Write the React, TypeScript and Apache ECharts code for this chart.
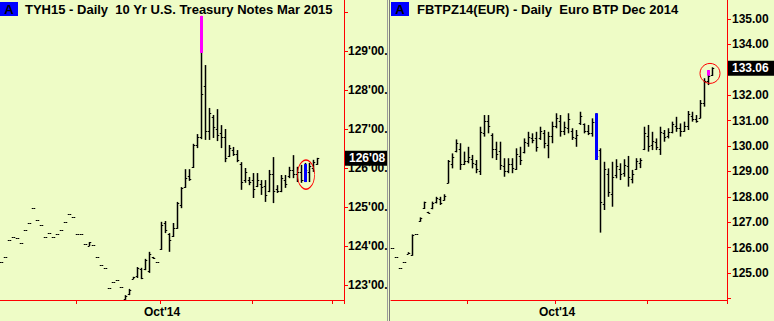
import React, { useEffect, useRef } from "react";
import * as echarts from "echarts";

const FONT = '"Liberation Sans", Arial, Helvetica, sans-serif';
const BG = "#EEFCC6";
const RED = "#FF0000";

// ---------- Left panel: TYH15 (10 Yr U.S. Treasury Notes Mar 2015) ----------
const tyTitle = "TYH15 - Daily  10 Yr U.S. Treasury Notes Mar 2015";
const tyMonthTickIdx = [19, 40, 63, 83];
const tyMonthLabels = ["", "Oct'14", "", ""];
const tyOpen = [
  123.59, 123.72, 124.15, 124.23, 124.21, 124.08, 124.41, 124.59, 124.97, 124.67,
  124.54, 124.23, 124.33, 124.23, 124.31, 124.41, 124.62, 124.82, 124.74, 124.31,
  124.31, 124.05, 124.0, 124.03, 123.72, 123.51, 123.44, 122.92, 123.08, 123.13,
  122.95, 122.64, 122.76, 123.16, 123.22, 123.4, 123.4, 123.35, 123.72, 123.59,
  123.92, 124.58, 124.3, 124.25, 124.46, 125.05, 125.52, 125.8, 126.02, 126.6,
  126.8, 128.1, 126.95, 127.3, 127.0, 126.9, 126.8, 126.3, 126.45, 126.35,
  126.1, 125.7, 125.7, 125.7, 125.55, 125.6, 125.55, 125.4, 125.85, 125.45,
  125.4, 125.7, 125.8, 125.95, 125.85, 125.9, 125.7, 125.9, 126.0, 126.1,
];
const tyHigh = [
  123.59, 123.72, 124.15, 124.23, 124.21, 124.08, 124.41, 124.59, 124.97, 124.67,
  124.54, 124.23, 124.33, 124.23, 124.31, 124.41, 124.62, 124.82, 124.74, 124.31,
  124.31, 124.05, 124.1, 124.03, 123.72, 123.51, 123.44, 122.92, 123.08, 123.13,
  122.95, 122.74, 122.9, 123.21, 123.46, 123.44, 123.67, 123.85, 123.72, 123.59,
  124.62, 124.64, 124.33, 124.59, 125.13, 125.51, 125.97, 125.97, 126.62, 126.87,
  129.9, 128.64, 127.54, 127.36, 127.51, 127.1, 127.0, 126.59, 126.54, 126.46,
  126.15, 126.0, 125.77, 125.87, 125.87, 125.69, 125.69, 125.95, 126.28, 125.56,
  125.82, 125.82, 126.03, 126.33, 126.03, 126.08, 126.13, 126.13, 126.21, 126.26,
];
const tyLow = [
  123.59, 123.72, 124.15, 124.23, 124.21, 124.08, 124.41, 124.59, 124.97, 124.67,
  124.54, 124.23, 124.33, 124.23, 124.31, 124.41, 124.62, 124.82, 124.74, 124.31,
  124.31, 124.05, 124.0, 124.03, 123.72, 123.51, 123.44, 122.92, 123.08, 123.13,
  122.95, 122.62, 122.74, 123.15, 123.18, 123.15, 123.38, 123.31, 123.67, 123.59,
  123.9, 124.33, 123.85, 124.23, 124.44, 124.97, 125.49, 125.67, 126.0, 126.51,
  126.74, 126.72, 126.72, 126.77, 126.69, 126.51, 126.15, 126.28, 126.31, 126.15,
  125.44, 125.62, 125.56, 125.23, 125.51, 125.31, 125.13, 125.38, 125.1, 125.36,
  125.38, 125.49, 125.74, 125.74, 125.64, 125.62, 125.64, 125.64, 125.9, 126.08,
];
const tyClose = [
  123.59, 123.72, 124.15, 124.23, 124.21, 124.08, 124.41, 124.59, 124.97, 124.67,
  124.54, 124.23, 124.33, 124.23, 124.31, 124.41, 124.62, 124.82, 124.74, 124.31,
  124.31, 124.05, 124.1, 124.03, 123.72, 123.51, 123.44, 122.92, 123.08, 123.13,
  122.95, 122.72, 122.88, 123.2, 123.44, 123.18, 123.64, 123.8, 123.68, 123.59,
  124.55, 124.4, 124.15, 124.45, 125.1, 125.48, 125.75, 125.72, 126.6, 126.8,
  127.9, 126.95, 127.4, 127.05, 126.85, 126.8, 126.25, 126.5, 126.35, 126.2,
  125.65, 125.9, 125.65, 125.45, 125.7, 125.5, 125.3, 125.85, 125.4, 125.4,
  125.75, 125.6, 125.95, 125.85, 125.9, 125.7, 125.95, 126.05, 126.15, 126.25,
];
const tyHlIdx = [50, 76];
const tyHlLow = [128.95, 125.64];
const tyHlHigh = [129.9, 126.1];
const tyHlColor = ["#FF00FF", "#0000FF"];
const tyLast = 126.25;
const tyLastLabel = "126'08";
const tyRing = { idx: 76, price: 125.83 };

// ---------- Right panel: FBTPZ14 (Euro BTP Dec 2014) ----------
const btpTitle = "FBTPZ14(EUR) - Daily  Euro BTP Dec 2014";
const btpMonthTickIdx = [19, 41, 64];
const btpMonthLabels = ["", "Oct'14", ""];
const btpOpen = [
  126.0, 125.63, 125.19, 125.42, 125.75, 125.7, 126.52, 127.03, 127.55, 127.4,
  127.55, 127.78, 127.9, 127.88, 128.55, 129.3, 129.8, 129.9, 129.3, 129.4,
  129.5, 129.3, 129.0, 130.5, 131.0, 130.45, 129.9, 129.8, 129.2, 129.0,
  129.3, 129.1, 129.6, 129.75, 130.1, 130.3, 130.3, 130.3, 130.5, 130.05,
  130.4, 130.8, 131.0, 130.6, 130.7, 130.6, 130.3, 130.9, 130.85, 130.6,
  130.5, 130.95, 129.85, 127.7, 128.9, 128.1, 128.85, 129.1, 128.95, 129.2,
  128.7, 129.1, 129.35, 129.9, 130.4, 130.05, 130.15, 129.9, 130.5, 130.4,
  130.55, 130.8, 130.7, 130.6, 130.8, 131.2, 131.05, 131.1, 131.7, 132.55, 132.8,
];
const btpHigh = [
  126.0, 125.63, 125.19, 125.42, 125.82, 126.52, 126.52, 127.19, 127.81, 127.41,
  127.81, 128.0, 128.0, 128.1, 129.45, 129.71, 130.26, 130.11, 129.78, 129.97,
  129.65, 129.45, 130.76, 131.22, 131.22, 130.5, 130.17, 130.17, 129.52, 129.52,
  129.52, 129.91, 129.97, 130.3, 130.56, 130.5, 130.56, 130.76, 130.63, 130.56,
  130.96, 131.29, 131.22, 130.96, 131.29, 130.7, 130.63, 131.35, 130.89, 130.83,
  131.09, 131.29, 129.91, 129.38, 129.12, 129.38, 129.48, 129.32, 129.48, 129.61,
  129.06, 129.52, 129.52, 130.76, 130.83, 130.56, 130.3, 130.76, 130.63, 130.7,
  130.96, 131.15, 130.89, 130.96, 131.38, 131.35, 131.22, 131.81, 132.67, 132.99, 133.1,
];
const btpLow = [
  126.0, 125.63, 125.19, 125.42, 125.75, 125.68, 126.52, 127.02, 127.52, 127.35,
  127.51, 127.74, 127.68, 127.85, 128.53, 129.12, 129.75, 129.06, 129.25, 129.32,
  129.12, 128.93, 128.86, 130.37, 130.5, 129.52, 129.45, 129.06, 128.79, 128.93,
  128.93, 129.06, 129.25, 129.71, 129.97, 130.11, 129.78, 130.24, 129.91, 129.52,
  130.11, 130.7, 130.37, 130.43, 130.5, 130.24, 129.97, 130.83, 130.5, 130.43,
  130.37, 129.45, 126.59, 127.48, 128.0, 127.61, 128.73, 128.66, 128.79, 128.4,
  128.53, 129.06, 129.13, 129.84, 129.78, 129.84, 129.84, 129.65, 130.17, 130.3,
  130.5, 130.56, 130.37, 130.56, 130.63, 130.96, 130.92, 131.09, 131.55, 132.4, 132.76,
];
const btpClose = [
  126.0, 125.63, 125.19, 125.42, 125.8, 126.5, 126.52, 127.18, 127.78, 127.36,
  127.75, 127.95, 127.75, 128.05, 129.4, 129.55, 130.1, 129.3, 129.4, 129.55,
  129.35, 129.1, 130.55, 131.0, 130.8, 129.9, 129.7, 129.25, 129.0, 129.3,
  129.15, 129.7, 129.45, 130.15, 130.35, 130.25, 129.95, 130.6, 130.1, 130.4,
  130.8, 131.1, 130.6, 130.75, 131.05, 130.35, 130.45, 131.2, 130.6, 130.5,
  130.95, 129.6, 127.8, 129.1, 128.2, 128.8, 129.2, 128.9, 129.25, 128.8,
  128.9, 129.4, 129.45, 130.5, 130.0, 130.2, 129.95, 130.55, 130.35, 130.55,
  130.85, 130.7, 130.6, 130.8, 131.25, 131.05, 131.0, 131.7, 132.55, 132.75, 133.06,
];
const btpHlIdx = [51, 79];
const btpHlLow = [129.45, 132.77];
const btpHlHigh = [131.29, 132.99];
const btpHlColor = ["#0000FF", "#FF00FF"];
const btpLast = 133.06;
const btpLastLabel = "133.06";
const btpRing = { idx: 79, price: 132.86 };

type Panel = {
  title: string;
  boxX: number;
  titleX: number;
  categoryCount: number;
  monthTickIdx: number[];
  monthLabels: string[];
  open: number[];
  high: number[];
  low: number[];
  close: number[];
  hlIdx: number[];
  hlLow: number[];
  hlHigh: number[];
  hlColor: string[];
  last: number;
  lastLabel: string;
  ring: { idx: number; price: number };
  ringSize: number[];
  ringOffset: number[];
  yMin: number;
  yMax: number;
  yFmt: (v: number) => string;
  grid: { left: number; right: number; top: number; bottom: number };
  labelMargin: number;
  separator: boolean;
};

const ohlcRender = (_params: any, api: any) => {
  const idx = api.value(0);
  const o = api.coord([idx, api.value(1)]);
  const h = api.coord([idx, api.value(2)]);
  const l = api.coord([idx, api.value(3)]);
  const c = api.coord([idx, api.value(4)]);
  const x = Math.round(h[0]) - 0.5;
  const snap = (y: number) => Math.round(y) + 0.5;
  const thin = { stroke: "#000", lineWidth: 1 };
  const children: any[] = [];
  if (l[1] - h[1] > 0.6) {
    children.push({
      type: "line",
      shape: { x1: x, y1: h[1], x2: x, y2: l[1] },
      style: { stroke: "#000", lineWidth: 1.5 },
    });
  }
  children.push({
    type: "line",
    shape: { x1: x - 1.75, y1: snap(o[1]), x2: x, y2: snap(o[1]) },
    style: thin,
  });
  children.push({
    type: "line",
    shape: { x1: x, y1: snap(c[1]), x2: x + 1.75, y2: snap(c[1]) },
    style: thin,
  });
  return { type: "group", children };
};

const hlRender = (_params: any, api: any) => {
  const idx = api.value(0);
  const lo = api.coord([idx, api.value(1)]);
  const hi = api.coord([idx, api.value(2)]);
  const x = Math.round(lo[0]) - 0.5;
  return {
    type: "rect",
    shape: { x: x - 1.5, y: hi[1], width: 3, height: lo[1] - hi[1] },
    style: { fill: api.visual("color") },
  };
};

function buildOption(p: Panel) {
  const cats = Array.from({ length: p.categoryCount }, (_, i) => {
    const k = p.monthTickIdx.indexOf(i);
    return k >= 0 ? p.monthLabels[k] || " " : "";
  });
  const bars = p.open.map((o, i) => [i, o, p.high[i], p.low[i], p.close[i]]);
  const hl = p.hlIdx.map((idx, k) => ({
    value: [idx, p.hlLow[k], p.hlHigh[k]],
    itemStyle: { color: p.hlColor[k] },
  }));
  const graphic: any[] = [
    {
      type: "rect",
      shape: { x: p.boxX, y: 2, width: 18, height: 14 },
      style: { fill: "#0000FF" },
      z: 100,
    },
    {
      type: "text",
      x: p.boxX + 9,
      y: 9.5,
      style: {
        text: "A",
        fill: "#000",
        fontSize: 13,
        fontWeight: "bold",
        fontFamily: FONT,
        align: "center",
        verticalAlign: "middle",
      },
      z: 101,
    },
    {
      type: "text",
      x: p.titleX,
      y: 9.5,
      style: {
        text: p.title,
        fill: "#000",
        fontSize: 13,
        fontWeight: "bold",
        fontFamily: FONT,
        align: "left",
        verticalAlign: "middle",
      },
      z: 101,
    },
  ];
  if (p.separator) {
    graphic.push(
      { type: "rect", shape: { x: 0, y: 0, width: 1, height: 321 }, style: { fill: "#9a9a9a" }, z: 100 },
      { type: "rect", shape: { x: 2, y: 0, width: 1, height: 321 }, style: { fill: "#7a7a7a" }, z: 100 }
    );
  }
  return {
    animation: false,
    backgroundColor: BG,
    textStyle: { fontFamily: FONT },
    grid: { ...p.grid, containLabel: false, outerBoundsMode: "none" },
    xAxis: {
      type: "category",
      data: cats,
      boundaryGap: true,
      axisLine: { show: true, onZero: false, lineStyle: { color: RED, width: 1 } },
      axisTick: {
        show: true,
        length: 4,
        lineStyle: { color: RED },
        interval: (i: number) => p.monthTickIdx.includes(i),
      },
      axisLabel: {
        show: true,
        interval: (_i: number, v: string) => v !== "" && v !== " ",
        color: "#000",
        fontWeight: "bold",
        fontSize: 12,
        fontFamily: FONT,
        margin: 6,
      },
      splitLine: { show: false },
    },
    yAxis: {
      type: "value",
      position: "right",
      min: p.yMin,
      max: p.yMax,
      splitNumber: 10,
      minInterval: 1,
      maxInterval: 1,
      axisLine: { show: true, lineStyle: { color: RED, width: 1 } },
      axisTick: { show: true, length: 4, lineStyle: { color: RED } },
      axisLabel: {
        formatter: p.yFmt,
        color: "#000",
        fontWeight: "bold",
        fontSize: 12,
        fontFamily: FONT,
        margin: p.labelMargin,
        showMinLabel: false,
        showMaxLabel: false,
      },
      splitLine: { show: false },
    },
    series: [
      {
        type: "custom",
        renderItem: ohlcRender,
        data: bars,
        encode: { x: 0, y: [1, 2, 3, 4] },
        z: 2,
        silent: true,
      },
      {
        type: "custom",
        renderItem: hlRender,
        data: hl,
        encode: { x: 0, y: [1, 2] },
        z: 3,
        silent: true,
        markPoint: {
          silent: true,
          animation: false,
          data: [
            {
              coord: [p.ring.idx, p.ring.price],
              symbol: "circle",
              symbolSize: p.ringSize,
              symbolOffset: p.ringOffset,
              itemStyle: { color: "rgba(0,0,0,0)", borderColor: RED, borderWidth: 1 },
              label: { show: false },
            },
          ],
        },
        markLine: {
          silent: true,
          animation: false,
          symbol: ["none", "none"],
          lineStyle: { color: "rgba(0,0,0,0)", width: 1, type: "solid" },
          label: {
            show: true,
            position: "end",
            formatter: p.lastLabel,
            color: "#fff",
            backgroundColor: "#000",
            fontWeight: "bold",
            fontSize: 12,
            fontFamily: FONT,
            padding: [2, 10, 1, 4],
            distance: 1,
          },
          data: [{ yAxis: p.last }],
        },
      },
    ],
    graphic,
  };
}

const leftPanel: Panel = {
  title: tyTitle,
  boxX: 0,
  titleX: 25,
  categoryCount: 86,
  monthTickIdx: tyMonthTickIdx,
  monthLabels: tyMonthLabels,
  open: tyOpen,
  high: tyHigh,
  low: tyLow,
  close: tyClose,
  hlIdx: tyHlIdx,
  hlLow: tyHlLow,
  hlHigh: tyHlHigh,
  hlColor: tyHlColor,
  last: tyLast,
  lastLabel: tyLastLabel,
  ring: tyRing,
  ringSize: [17, 29],
  ringOffset: [0, 0],
  yMin: 122.615,
  yMax: 130.308,
  yFmt: (v: number) => (Number.isInteger(v) && v <= 129 ? `${v}'00.0` : ""),
  grid: { left: 0, right: 43, top: 0, bottom: 21 },
  labelMargin: 4,
  separator: false,
};

const rightPanel: Panel = {
  title: btpTitle,
  boxX: 4,
  titleX: 30,
  categoryCount: 84,
  monthTickIdx: btpMonthTickIdx,
  monthLabels: btpMonthLabels,
  open: btpOpen,
  high: btpHigh,
  low: btpLow,
  close: btpClose,
  hlIdx: btpHlIdx,
  hlLow: btpHlLow,
  hlHigh: btpHlHigh,
  hlColor: btpHlColor,
  last: btpLast,
  lastLabel: btpLastLabel,
  ring: btpRing,
  ringSize: [20, 20],
  ringOffset: [1, 0],
  yMin: 123.937,
  yMax: 135.75,
  yFmt: (v: number) => (Number.isInteger(v) && v >= 125 ? v.toFixed(2) : ""),
  grid: { left: 4, right: 47, top: 0, bottom: 21 },
  labelMargin: 5,
  separator: true,
};

function PanelChart({ panel }: { panel: Panel }) {
  const ref = useRef<HTMLDivElement>(null);
  useEffect(() => {
    if (!ref.current) return;
    const chart = echarts.init(ref.current, undefined, { renderer: "svg" });
    chart.setOption(buildOption(panel) as any);
    return () => chart.dispose();
  }, [panel]);
  return <div ref={ref} style={{ width: 387, height: 321, overflow: "hidden" }} />;
}

export default function App() {
  return (
    <div
      style={{
        position: "fixed",
        left: 0,
        top: 0,
        width: 774,
        height: 321,
        display: "flex",
        background: BG,
        overflow: "hidden",
      }}
    >
      <PanelChart panel={leftPanel} />
      <PanelChart panel={rightPanel} />
    </div>
  );
}
